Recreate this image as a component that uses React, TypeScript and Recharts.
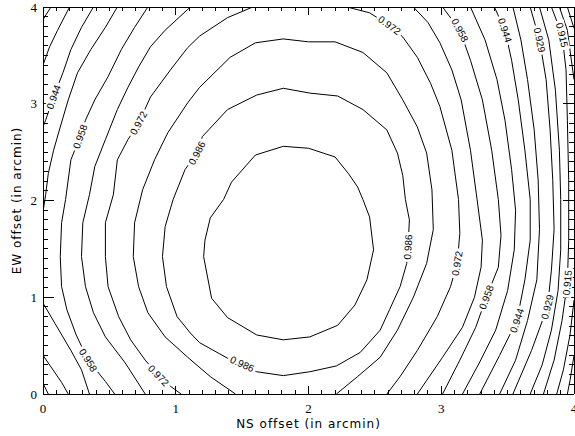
import { LineChart, Line, XAxis, YAxis } from 'recharts'

// contour points are [NS offset, EW offset]; a third element 1 marks where the level label sits
type Pt = [number, number] | [number, number, 1]

const c0993: Pt[] = [
  [1.81, 2.56], [2.0, 2.54], [2.2, 2.45], [2.3, 2.28], [2.37, 2.14], [2.41, 2.01],
  [2.46, 1.83], [2.49, 1.49], [2.44, 1.18], [2.35, 0.92], [2.22, 0.71], [2.01, 0.59],
  [1.81, 0.56], [1.61, 0.61], [1.39, 0.79], [1.27, 0.99], [1.21, 1.42], [1.22, 1.59],
  [1.26, 1.82], [1.36, 2.01], [1.42, 2.19], [1.6, 2.47], [1.81, 2.56],
]

const c0986: Pt[] = [
  [1.81, 3.16], [2.01, 3.11], [2.22, 3.08], [2.41, 2.94], [2.59, 2.73], [2.67, 2.49],
  [2.71, 2.26], [2.73, 2.01], [2.76, 1.8], [2.75, 1.52, 1], [2.74, 1.35], [2.69, 1.11],
  [2.61, 0.87], [2.54, 0.66], [2.39, 0.43], [2.21, 0.29], [2.01, 0.23], [1.81, 0.19],
  [1.61, 0.23], [1.5, 0.31, 1], [1.39, 0.37], [1.18, 0.53], [1.11, 0.63], [1.01, 0.8],
  [0.93, 1.11], [0.9, 1.42], [0.92, 1.73], [0.98, 2.01], [1.07, 2.32], [1.16, 2.49, 1],
  [1.2, 2.66], [1.39, 2.94], [1.61, 3.09], [1.81, 3.16],
]

const c0979: Pt[] = [
  [1.45, 0], [1.26, 0.18], [1.09, 0.38], [0.92, 0.59], [0.79, 0.84], [0.72, 1.11],
  [0.68, 1.42], [0.69, 1.77], [0.75, 2.11], [0.84, 2.42], [0.94, 2.7], [1.09, 3.01],
  [1.18, 3.17], [1.41, 3.48], [1.6, 3.63], [1.81, 3.67], [2.0, 3.64], [2.2, 3.64],
  [2.41, 3.53], [2.59, 3.32], [2.71, 3.04], [2.82, 2.76], [2.89, 2.49], [2.93, 2.11],
  [2.94, 1.7], [2.89, 1.35], [2.79, 1.0], [2.67, 0.66], [2.54, 0.38], [2.37, 0.18], [2.21, 0],
]

const c0972Left: Pt[] = [
  [1.04, 0], [0.96, 0.08], [0.87, 0.19, 1], [0.77, 0.35], [0.66, 0.56], [0.57, 0.8],
  [0.49, 1.11], [0.47, 1.42], [0.47, 1.77], [0.53, 2.06], [0.56, 2.42], [0.64, 2.63],
  [0.72, 2.8, 1], [0.81, 3.07], [0.96, 3.35], [1.09, 3.58], [1.18, 3.7], [1.39, 3.89], [1.58, 4.0],
]
const c0972Right: Pt[] = [
  [2.29, 4.0], [2.46, 3.94], [2.61, 3.81, 1], [2.71, 3.69], [2.82, 3.48], [2.92, 3.21],
  [2.99, 2.97], [3.08, 2.52], [3.13, 2.01], [3.14, 1.66], [3.12, 1.35, 1], [3.07, 1.11],
  [2.97, 0.8], [2.82, 0.45], [2.69, 0.18], [2.59, 0],
]

const c0965Left: Pt[] = [
  [0.77, 0], [0.62, 0.32], [0.47, 0.59], [0.38, 0.84], [0.32, 1.11], [0.29, 1.42],
  [0.3, 1.77], [0.35, 2.06], [0.39, 2.35], [0.47, 2.63], [0.56, 2.94], [0.64, 3.17],
  [0.72, 3.38], [0.81, 3.59], [0.92, 3.76], [1.11, 4.0],
]
const c0965Right: Pt[] = [
  [2.79, 4.0], [2.9, 3.84], [2.99, 3.63], [3.08, 3.35], [3.15, 3.04], [3.22, 2.52],
  [3.27, 2.01], [3.31, 1.59], [3.3, 1.31], [3.25, 1.0], [3.16, 0.69], [3.01, 0.38],
  [2.89, 0.14], [2.82, 0],
]

const c0958Left: Pt[] = [
  [0.54, 0], [0.47, 0.13], [0.34, 0.35, 1], [0.25, 0.61], [0.18, 0.87], [0.14, 1.11],
  [0.13, 1.42], [0.14, 1.77], [0.17, 2.01], [0.21, 2.42], [0.28, 2.66, 1], [0.32, 2.83],
  [0.39, 3.04], [0.49, 3.28], [0.59, 3.56], [0.69, 3.79], [0.79, 4.0],
]
const c0958Right: Pt[] = [
  [3.01, 4.0], [3.14, 3.76, 1], [3.22, 3.45], [3.31, 3.04], [3.38, 2.52], [3.43, 2.01],
  [3.45, 1.64], [3.43, 1.31], [3.34, 1.0, 1], [3.26, 0.69], [3.14, 0.35], [3.01, 0],
]

const c0951Top: Pt[] = [
  [0.56, 4.0], [0.47, 3.79], [0.36, 3.56], [0.26, 3.32], [0.19, 3.04], [0.13, 2.76],
  [0.08, 2.52], [0.04, 2.28], [0.02, 2.06], [0, 1.88],
]
const c0951Bottom: Pt[] = [[0, 0.94], [0.09, 0.73], [0.21, 0.45], [0.29, 0.25], [0.35, 0]]
const c0951Right: Pt[] = [
  [3.22, 4.0], [3.33, 3.66], [3.42, 3.25], [3.48, 2.83], [3.53, 2.32], [3.56, 1.9],
  [3.55, 1.49], [3.5, 1.07], [3.41, 0.66], [3.29, 0.33], [3.16, 0],
]

const c0944Top: Pt[] = [
  [0.38, 4.0], [0.29, 3.79], [0.21, 3.56], [0.15, 3.32], [0.08, 3.07, 1], [0.02, 2.83], [0, 2.76],
]
const c0944Bottom: Pt[] = [[0, 0.4], [0.06, 0.28], [0.14, 0.12], [0.19, 0]]
const c0944Right: Pt[] = [
  [3.4, 4.0], [3.48, 3.76, 1], [3.53, 3.45], [3.58, 3.04], [3.63, 2.52], [3.67, 2.01],
  [3.67, 1.59], [3.63, 1.18], [3.57, 0.76, 1], [3.44, 0.4], [3.29, 0],
]

const c0936Top: Pt[] = [[0.2, 4.0], [0.11, 3.76], [0.05, 3.59], [0, 3.4]]
const c0936Bottom: Pt[] = [[0, 0.11], [0.04, 0]]
const c0936Right: Pt[] = [
  [3.54, 4.0], [3.6, 3.66], [3.65, 3.25], [3.7, 2.73], [3.73, 2.21], [3.74, 1.7],
  [3.72, 1.18], [3.65, 0.76], [3.56, 0.35], [3.44, 0],
]

const c0929Top: Pt[] = [[0.06, 4.0], [0, 3.87]]
const c0929Right: Pt[] = [
  [3.67, 4.0], [3.74, 3.66, 1], [3.79, 3.25], [3.82, 2.73], [3.84, 2.21], [3.85, 1.7],
  [3.83, 1.28], [3.8, 0.9, 1], [3.68, 0.45], [3.54, 0],
]

const c0922Right: Pt[] = [
  [3.74, 4.0], [3.81, 3.66], [3.86, 3.14], [3.89, 2.52], [3.9, 2.01], [3.9, 1.49],
  [3.88, 1.07], [3.83, 0.66], [3.76, 0.3], [3.67, 0],
]

const c0915Right: Pt[] = [
  [3.83, 4.0], [3.91, 3.71, 1], [3.94, 3.35], [3.95, 2.83], [3.96, 2.21], [3.96, 1.59],
  [3.95, 1.15, 1], [3.91, 0.76], [3.85, 0.35], [3.77, 0],
]

const c0908Top: Pt[] = [[3.89, 4.0], [3.95, 3.76], [3.98, 3.45], [4.0, 3.25]]
const c0908Bottom: Pt[] = [[4.0, 0.97], [3.97, 0.61], [3.92, 0.25], [3.87, 0]]
const c0901Top: Pt[] = [[3.95, 4.0], [4.0, 3.78]]
const c0901Bottom: Pt[] = [[4.0, 0.4], [3.97, 0.14], [3.95, 0]]

const CONTOURS: { level: string; segments: Pt[][] }[] = [
  { level: '0.993', segments: [c0993] },
  { level: '0.986', segments: [c0986] },
  { level: '0.979', segments: [c0979] },
  { level: '0.972', segments: [c0972Left, c0972Right] },
  { level: '0.965', segments: [c0965Left, c0965Right] },
  { level: '0.958', segments: [c0958Left, c0958Right] },
  { level: '0.951', segments: [c0951Top, c0951Bottom, c0951Right] },
  { level: '0.944', segments: [c0944Top, c0944Bottom, c0944Right] },
  { level: '0.936', segments: [c0936Top, c0936Bottom, c0936Right] },
  { level: '0.929', segments: [c0929Top, c0929Right] },
  { level: '0.922', segments: [c0922Right] },
  { level: '0.915', segments: [c0915Right] },
  { level: '0.908', segments: [c0908Top, c0908Bottom] },
  { level: '0.901', segments: [c0901Top, c0901Bottom] },
]

const AXIS_LABELS = [0, 1, 2, 3, 4]
const MINOR_TICKS = Array.from({ length: 41 }, (_, i) => i / 10)

const WIDTH = 575
const HEIGHT = 436
// top/right axes are 1px wide boxes: a zero-size axis is not drawn at all
const MARGIN = { top: 6, right: 0, bottom: 0, left: 0 }
const Y_AXIS_W = 43
const X_AXIS_H = 42
const MIRROR_AXIS = 1
const PLOT_W = WIDTH - MARGIN.left - MARGIN.right - Y_AXIS_W - MIRROR_AXIS
const PLOT_H = HEIGHT - MARGIN.top - MARGIN.bottom - X_AXIS_H - MIRROR_AXIS
// pixels per arcmin, used to turn neighbouring points into a label angle
const KX = PLOT_W / 4
const KY = PLOT_H / 4

const TICK_FONT = { fontFamily: 'Liberation Serif', fontSize: 13, fill: '#000' }
const TITLE_FONT = { fontFamily: 'DejaVu Sans', fontSize: 12, fill: '#000', letterSpacing: 1 }
const TICK_LINE = { stroke: '#000', strokeWidth: 1, shapeRendering: 'crispEdges' as const }
const AXIS_LINE = { stroke: '#000', strokeWidth: 1, shapeRendering: 'crispEdges' }

const isMajor = (v: number) => AXIS_LABELS.some((m) => Math.abs(m - v) < 1e-6)

function BottomTick({ x, y, payload }: any) {
  const major = isMajor(payload.value)
  return (
    <g>
      <line x1={x} y1={y} x2={x} y2={y - (major ? 7.7 : 3.9)} {...TICK_LINE} />
      {major && (
        <text x={x} y={y + 14} textAnchor="middle" dominantBaseline="central" {...TICK_FONT}>
          {payload.value}
        </text>
      )}
    </g>
  )
}

function TopTick({ x, y, payload }: any) {
  const major = isMajor(payload.value)
  return <line x1={x} y1={y} x2={x} y2={y + (major ? 7.7 : 3.9)} {...TICK_LINE} />
}

function LeftTick({ x, y, payload }: any) {
  const major = isMajor(payload.value)
  return (
    <g>
      <line x1={x} y1={y} x2={x + (major ? 10.6 : 5.3)} y2={y} {...TICK_LINE} />
      {major && (
        <text x={x - 6} y={y} textAnchor="end" dominantBaseline="central" {...TICK_FONT}>
          {payload.value}
        </text>
      )}
    </g>
  )
}

function RightTick({ x, y, payload }: any) {
  const major = isMajor(payload.value)
  return <line x1={x} y1={y} x2={x - (major ? 10.6 : 5.3)} y2={y} {...TICK_LINE} />
}

function XTitle({ viewBox }: any) {
  return (
    <text x={viewBox.x + viewBox.width / 2} y={viewBox.y + 30} textAnchor="middle" dominantBaseline="central" {...TITLE_FONT}>
      NS offset (in arcmin)
    </text>
  )
}

function YTitle({ viewBox }: any) {
  const cx = viewBox.x + 17
  const cy = viewBox.y + viewBox.height / 2
  return (
    <text x={cx} y={cy} transform={`rotate(-90 ${cx} ${cy})`} textAnchor="middle" dominantBaseline="central" {...TITLE_FONT}>
      EW offset (in arcmin)
    </text>
  )
}

// level label written along the line, with a white patch breaking the contour under it
function contourLabel(level: string, seg: Pt[]) {
  return (props: any) => {
    const i = props.index
    if (i == null || !seg[i] || seg[i][2] !== 1) return null
    const cx = props.x ?? props.viewBox?.x
    const cy = props.y ?? props.viewBox?.y
    const a = seg[Math.max(i - 1, 0)]
    const b = seg[Math.min(i + 1, seg.length - 1)]
    let ang = (Math.atan2(-(b[1] - a[1]) * KY, (b[0] - a[0]) * KX) * 180) / Math.PI
    if (ang > 90) ang -= 180
    if (ang <= -90) ang += 180
    return (
      <g transform={`translate(${cx},${cy}) rotate(${ang})`}>
        <rect x={-15} y={-5} width={30} height={10} fill="#fff" />
        <text textAnchor="middle" dominantBaseline="central" fontFamily="Liberation Sans" fontSize={10} fill="#000">
          {level}
        </text>
      </g>
    )
  }
}

export default function App() {
  return (
    <div style={{ position: 'absolute', left: 0, top: 0, background: '#fff' }}>
      <LineChart width={WIDTH} height={HEIGHT} margin={MARGIN}>
        <XAxis
          xAxisId={0}
          dataKey="x"
          type="number"
          domain={[0, 4]}
          ticks={MINOR_TICKS}
          interval={0}
          allowDataOverflow
          height={X_AXIS_H}
          tickSize={0}
          tickMargin={0}
          tickLine={false}
          axisLine={AXIS_LINE}
          tick={<BottomTick />}
          label={<XTitle />}
        />
        <XAxis
          xAxisId="top"
          orientation="top"
          dataKey="x"
          type="number"
          domain={[0, 4]}
          ticks={MINOR_TICKS}
          interval={0}
          allowDataOverflow
          height={MIRROR_AXIS}
          tickSize={0}
          tickMargin={0}
          tickLine={false}
          axisLine={AXIS_LINE}
          tick={<TopTick />}
        />
        <YAxis
          yAxisId={0}
          type="number"
          domain={[0, 4]}
          ticks={MINOR_TICKS}
          interval={0}
          allowDataOverflow
          width={Y_AXIS_W}
          tickSize={0}
          tickMargin={0}
          tickLine={false}
          axisLine={AXIS_LINE}
          tick={<LeftTick />}
          label={<YTitle />}
        />
        <YAxis
          yAxisId="right"
          orientation="right"
          type="number"
          domain={[0, 4]}
          ticks={MINOR_TICKS}
          interval={0}
          allowDataOverflow
          width={MIRROR_AXIS}
          tickSize={0}
          tickMargin={0}
          tickLine={false}
          axisLine={AXIS_LINE}
          tick={<RightTick />}
        />
        {CONTOURS.flatMap((c) =>
          c.segments.map((seg, k) => (
            <Line
              key={`${c.level}-${k}`}
              xAxisId={0}
              yAxisId={0}
              data={seg.map(([x, y]) => ({ x, y }))}
              dataKey="y"
              type="linear"
              stroke="#000"
              strokeWidth={1}
              dot={false}
              activeDot={false}
              isAnimationActive={false}
              label={contourLabel(c.level, seg)}
            />
          )),
        )}
      </LineChart>
    </div>
  )
}
